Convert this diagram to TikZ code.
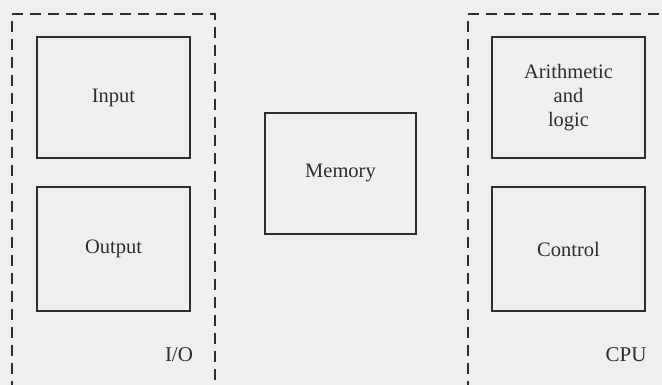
\documentclass[tikz,border=0pt]{standalone}
\usepackage{fontspec}
\setmainfont{Liberation Serif}
\definecolor{paper}{HTML}{EFEFEF}
\definecolor{ink}{HTML}{2E2E2E}
\begin{document}
\begin{tikzpicture}[x=1pt,y=-1pt,
  unitbox/.style={draw=ink, line width=2pt, rectangle, inner sep=0pt,
    text=ink, font=\fontsize{20.5}{24}\selectfont, align=center},
  groupline/.style={draw=ink, line width=1.5pt, dash pattern=on 11pt off 7pt},
  grouplabel/.style={text=ink, font=\fontsize{21}{24}\selectfont, inner sep=0pt}]
\fill[paper] (0,0) rectangle (662,385);
\useasboundingbox (0,0) rectangle (662,385);
\clip (0,0) rectangle (662,385);
% group boundaries
\coordinate (ioBL) at (12,392);
\coordinate (ioTL) at (12,14);
\coordinate (ioTR) at (215,14);
\coordinate (ioBR) at (215,392);
\coordinate (cpuBL) at (468,392);
\coordinate (cpuTL) at (468,14);
\coordinate (cpuTR) at (672,14);
\draw[groupline] (ioBL) -- (ioTL) -- (ioTR) -- (ioBR);
\draw[groupline] (cpuBL) -- (cpuTL) -- (cpuTR);
% units
\node[unitbox, minimum width=153pt, minimum height=121pt] (input) at (113.5,97.5) {Input};
\node[unitbox, minimum width=153pt, minimum height=124pt] (output) at (113.5,249) {Output};
\node[unitbox, minimum width=151pt, minimum height=121pt] (memory) at (340.5,173.5) {Memory};
\node[unitbox, minimum width=153pt, minimum height=121pt] (alu) at (568.5,97.5) {Arithmetic\\and\\logic};
\node[unitbox, minimum width=153pt, minimum height=124pt] (control) at (568.5,249) {Control};
% group labels
\node[grouplabel] (io) at (179,355) {I/O};
\node[grouplabel] (cpu) at (626,355) {CPU};
\end{tikzpicture}
\end{document}
